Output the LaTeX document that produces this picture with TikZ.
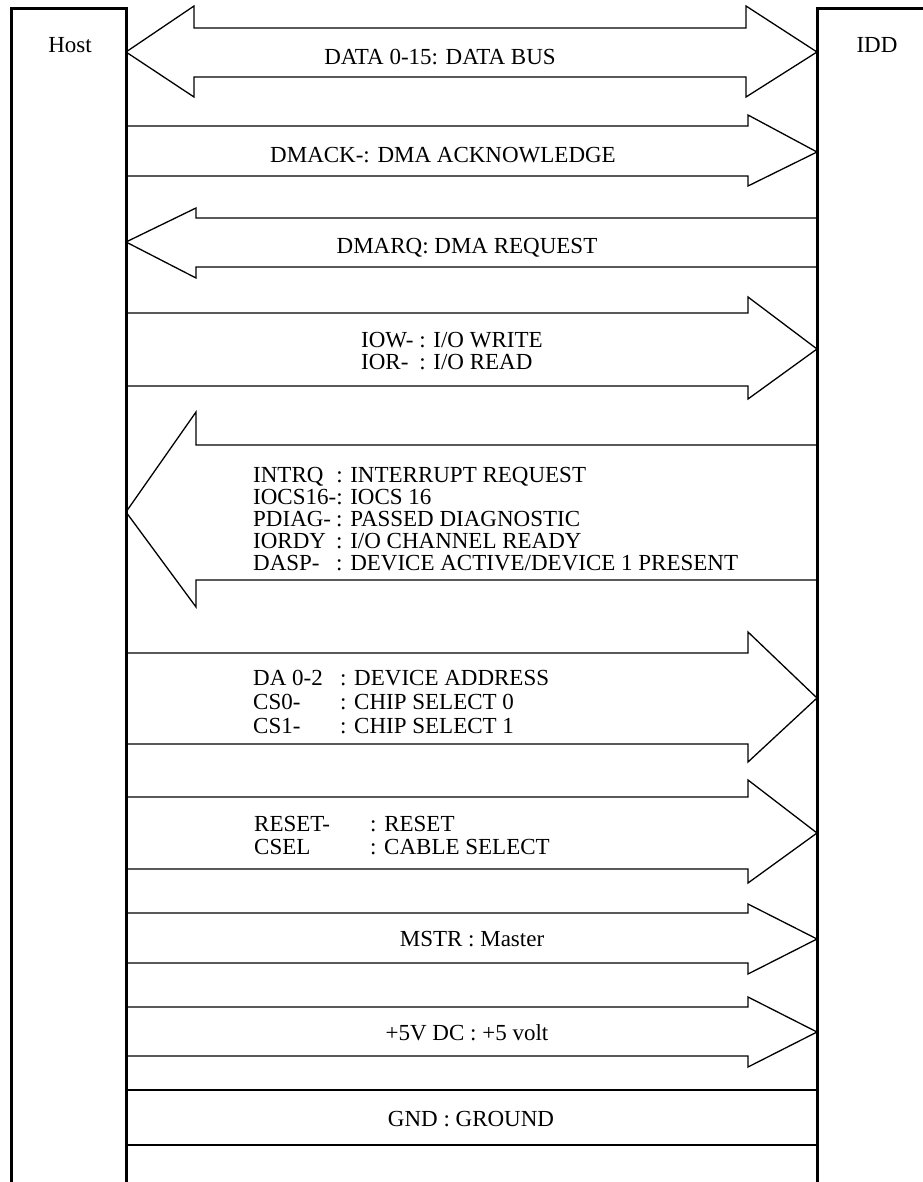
\documentclass[tikz,border=0pt]{standalone}
\usepackage{fontspec}
\setmainfont{Liberation Serif}

\begin{document}
\begin{tikzpicture}[x=1pt, y=-1pt,
    sig/.style={line width=1.3pt, line join=miter},
    unit/.style={line width=3pt},
    lbl/.style={font=\fontsize{23}{22}\selectfont, inner sep=0pt}]

    \useasboundingbox (0,0) rectangle (922,1182);

    % host and device blocks
    \draw[unit] (11,1190) -- (11,9) -- (126,9) -- (126,1190);
    \draw[unit] (817,1190) -- (817,9) -- (930,9);
    \node[lbl] (host) at (70,45) {Host};
    \node[lbl] (idd) at (877,45) {IDD};

    % signals from host to device
    \foreach \t/\ha/\sa/\sb/\hb in {152/115/126/176/186, 349/297/313/386/399,
        698/632/653/744/762, 833/780/797/869/883, 939/904/913/963/974, 1032/997/1007/1056/1067}
    \draw[sig] (126,\sa) -- (748,\sa) -- (748,\ha) -- (817,\t) -- (748,\hb) -- (748,\sb) -- (126,\sb);

    % signals from device to host
    \foreach \t/\ha/\sa/\sb/\hb in {242/208/218/267/278, 512/412/445/580/607}
    \draw[sig] (817,\sa) -- (196,\sa) -- (196,\ha) -- (126,\t) -- (196,\hb) -- (196,\sb) -- (817,\sb);

    % data bus, both ways
    \draw[sig] (194,28) -- (746,28) -- (746,6) -- (817,52) -- (746,97) -- (746,77)
        -- (194,77) -- (194,97) -- (126,52) -- (194,6) -- cycle;

    % ground
    \draw[sig] (126,1090) -- (817,1090);
    \draw[sig] (126,1145) -- (817,1145);

    % labels
    \node[lbl, anchor=base] (data) at (440,65) {DATA 0-15: DATA BUS};
    \node[lbl, anchor=base] (dmack) at (443,163) {DMACK-: DMA ACKNOWLEDGE};
    \node[lbl, anchor=base] (dmarq) at (467,254) {DMARQ: DMA REQUEST};
    \node[lbl, anchor=north west] (iorw) at (361,332)
        {\begin{tabular}{@{}l@{ }l@{}}IOW- & : I/O WRITE\\ IOR- & : I/O READ\end{tabular}};
    \node[lbl, anchor=north west] (intrq) at (253,467)
        {\begin{tabular}{@{}l@{}l@{}}INTRQ & : INTERRUPT REQUEST\\ IOCS16- & : IOCS 16\\
        PDIAG- & : PASSED DIAGNOSTIC\\ IORDY & : I/O CHANNEL READY\\
        DASP- & : DEVICE ACTIVE/DEVICE 1 PRESENT\end{tabular}};
    \node[lbl, font=\fontsize{23}{24}\selectfont, anchor=north west] (da) at (253,668)
        {\begin{tabular}{@{}p{87pt}@{}l@{}}DA 0-2 & : DEVICE ADDRESS\\ CS0- & : CHIP SELECT 0\\
        CS1- & : CHIP SELECT 1\end{tabular}};
    \node[lbl, font=\fontsize{23}{23}\selectfont, anchor=north west] (reset) at (254,815)
        {\begin{tabular}{@{}p{116pt}@{}l@{}}RESET- & : RESET\\ CSEL & : CABLE SELECT\end{tabular}};
    \node[lbl, anchor=base] (mstr) at (472,946) {MSTR : Master};
    \node[lbl, anchor=base] (pwr) at (467,1040) {+5V DC : +5 volt};
    \node[lbl, anchor=base] (gnd) at (471,1126) {GND : GROUND};

\end{tikzpicture}
\end{document}
